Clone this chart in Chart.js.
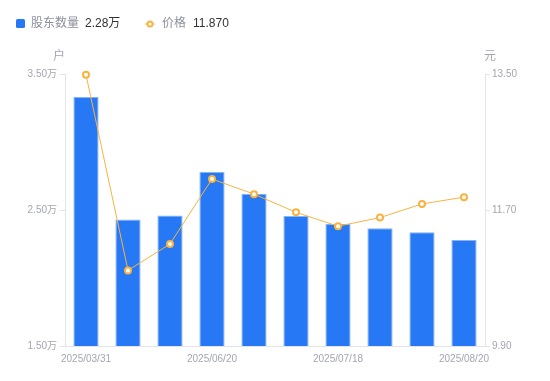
<!DOCTYPE html>
<html><head><meta charset="utf-8">
<script src="https://cdn.jsdelivr.net/npm/chart.js@4/dist/chart.umd.min.js"></script>
<style>html,body{margin:0;padding:0;background:#fff;}#wrap{position:relative;width:550px;height:381px;}</style>
</head><body><div id="wrap"><canvas id="c" width="550" height="381"></canvas></div>
<script>
const dates = ['2025/03/31','2025/04/30','2025/05/30','2025/06/20','2025/06/30','2025/07/10','2025/07/18','2025/07/31','2025/08/10','2025/08/20'];
const holders = [3.33, 2.43, 2.46, 2.78, 2.62, 2.456, 2.397, 2.366, 2.336, 2.28]; // 万户
const prices = [13.49, 10.90, 11.25, 12.11, 11.91, 11.67, 11.485, 11.60, 11.78, 11.87];
const leftTicks = [1.5, 2.5, 3.5];
const rightTicks = [9.9, 11.7, 13.5];
const holderName = '股东数量', priceName = '价格', leftUnit = '户', rightUnit = '元';

const FONT = '"Liberation Sans","Noto Sans CJK SC",sans-serif';
const BLUE = '#2778f4', ORANGE = '#f8b340', GRAY = '#a3a6b4', LINE = '#e3e3e8';

const overlay = {
  id:'overlay',
  afterDraw(chart){
    const ctx = chart.ctx, yl = chart.scales.y, yr = chart.scales.y1;
    ctx.save();
    ctx.font = '12px ' + FONT;
    ctx.fillStyle = GRAY; ctx.textAlign = 'center'; ctx.textBaseline = 'middle';
    ctx.fillText(leftUnit, yl.right - 6, 57);
    ctx.fillText(rightUnit, yr.left + 5, 57);
    // legend
    ctx.textAlign = 'left';
    ctx.fillStyle = BLUE;
    ctx.beginPath(); ctx.roundRect(16, 19, 9, 9, 1.5); ctx.fill();
    ctx.font = '12px ' + FONT;
    ctx.fillStyle = '#8d909e'; ctx.fillText(holderName, 31, 24);
    let w = ctx.measureText(holderName).width;
    ctx.fillStyle = '#333'; ctx.fillText(holders[holders.length-1].toFixed(2) + '万', 31 + w + 6, 24);
    const ix = 150;
    ctx.strokeStyle = ORANGE; ctx.lineWidth = 1;
    ctx.beginPath(); ctx.moveTo(ix-5, 24); ctx.lineTo(ix+5, 24); ctx.stroke();
    ctx.lineWidth = 2; ctx.fillStyle = '#fff';
    ctx.beginPath(); ctx.arc(ix, 24, 2.5, 0, Math.PI*2); ctx.fill(); ctx.stroke();
    ctx.fillStyle = '#8d909e'; ctx.fillText(priceName, 162, 24);
    w = ctx.measureText(priceName).width;
    ctx.fillStyle = '#333'; ctx.fillText(prices[prices.length-1].toFixed(3), 162 + w + 7, 24);
    ctx.restore();
  }
};

new Chart(document.getElementById('c'), {
  data: {
    labels: dates,
    datasets: [
      { type:'line', label: priceName, data: prices, yAxisID:'y1', borderColor: ORANGE, borderWidth: 1, clip: false,
        pointRadius: 3, pointBorderWidth: 2, pointBackgroundColor:'#fff', pointBorderColor: ORANGE, tension: 0, order: 0 },
      { type:'bar', label: holderName, data: holders, yAxisID:'y', backgroundColor: BLUE, borderColor:'#86b2f7',
        borderWidth: 1, barPercentage: 0.6, categoryPercentage: 1, order: 1 }
    ]
  },
  options: {
    responsive:false, animation:false,
    layout:{ padding:{ top:74, left:0, right:0, bottom:0 } },
    plugins:{ legend:{display:false}, tooltip:{enabled:false} },
    scales:{
      x:{
        grid:{ display:false, drawTicks:false },
        border:{ display:true, color: LINE },
        ticks:{ autoSkip:false, maxRotation:0, padding:7, color: GRAY, font:{size:10, family:FONT},
          callback:(v,i)=> i%3===0 ? dates[i] : '' },
        afterFit(s){ s.height = 35; }
      },
      y:{
        position:'left', min:1.5, max:3.5,
        afterBuildTicks(s){ s.ticks = leftTicks.map(v=>({value:v})); },
        grid:{ drawOnChartArea:false, drawTicks:true, tickLength:5, tickColor: LINE },
        border:{ display:true, color: LINE },
        ticks:{ padding:3, color: GRAY, font:{size:10, family:FONT}, callback:v=> v.toFixed(2)+'万' },
        afterFit(s){ s.width = 65; }
      },
      y1:{
        position:'right', min:9.9, max:13.5,
        afterBuildTicks(s){ s.ticks = rightTicks.map(v=>({value:v})); },
        grid:{ drawOnChartArea:false, drawTicks:true, tickLength:5, tickColor: LINE },
        border:{ display:true, color: LINE },
        ticks:{ padding:2, color: GRAY, font:{size:10, family:FONT}, callback:v=> v.toFixed(2) },
        afterFit(s){ s.width = 65; }
      }
    }
  },
  plugins:[overlay]
});
</script></body></html>
